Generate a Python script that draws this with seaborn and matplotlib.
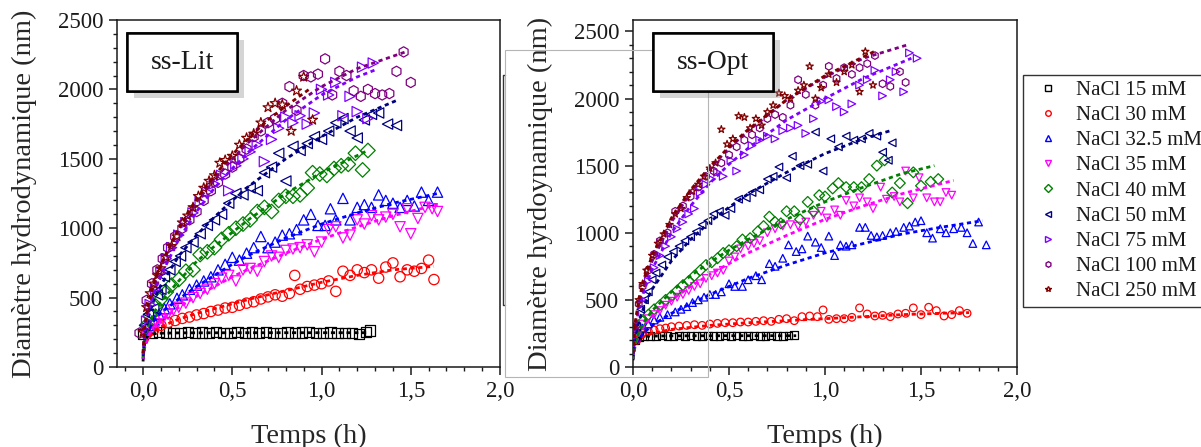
import matplotlib
matplotlib.use('Agg')
import matplotlib.pyplot as plt
import matplotlib.patheffects as pe
from matplotlib.patches import Rectangle
from matplotlib.lines import Line2D
from matplotlib.ticker import MultipleLocator, FuncFormatter
import seaborn as sns

# series description
labels = ['NaCl 15 mM', 'NaCl 30 mM', 'NaCl 32.5 mM', 'NaCl 35 mM', 'NaCl 40 mM',
          'NaCl 50 mM', 'NaCl 75 mM', 'NaCl 100 mM', 'NaCl 250 mM']
colors = ['#000000', '#ff0000', '#0000ff', '#ff00ff', '#008000',
          '#000080', '#8000ff', '#800080', '#800000']
markers = ['s', 'o', '^', 'v', 'D', '<', '>', 'h', '*']

### ss-Lit : measured points (time in h, diameter in nm)
lit_t_15 = [0.00, 0.05, 0.09, 0.13, 0.17, 0.21, 0.25, 0.29, 0.33, 0.37, 0.41, 0.45, 0.49, 0.53, 0.57, 0.61, 0.65,
            0.69, 0.73, 0.77, 0.81, 0.85, 0.89, 0.93, 0.97, 1.01, 1.05, 1.09, 1.13, 1.17, 1.21, 1.25, 1.27]
lit_d_15 = [240, 245, 250, 248, 246, 247, 250, 246, 248, 245, 250, 247, 245, 252, 246, 248, 244,
            250, 246, 247, 249, 245, 248, 250, 246, 245, 249, 247, 244, 246, 240, 250, 262]
lit_t_30 = [0.02, 0.06, 0.10, 0.14, 0.18, 0.22, 0.26, 0.30, 0.34, 0.38, 0.42, 0.46, 0.50, 0.54, 0.58, 0.62, 0.66,
            0.70, 0.74, 0.78, 0.82, 0.85, 0.88, 0.92, 0.96, 1.00, 1.04, 1.08, 1.12, 1.16, 1.20, 1.24, 1.28, 1.32,
            1.36, 1.40, 1.44, 1.48, 1.52, 1.56, 1.60, 1.63]
lit_d_30 = [240, 270, 300, 320, 335, 350, 360, 375, 385, 400, 410, 425, 430, 445, 460, 470, 490,
            505, 520, 510, 530, 660, 560, 580, 590, 600, 620, 545, 690, 660, 700, 680, 700, 640,
            720, 750, 650, 700, 690, 710, 770, 630]
lit_t_325 = [0.03, 0.06, 0.09, 0.12, 0.15, 0.19, 0.22, 0.26, 0.30, 0.34, 0.38, 0.42, 0.46, 0.50, 0.54, 0.58,
             0.62, 0.66, 0.70, 0.74, 0.78, 0.82, 0.86, 0.90, 0.94, 0.98, 1.02, 1.05, 1.08, 1.12, 1.16, 1.20,
             1.24, 1.28, 1.32, 1.36, 1.40, 1.44, 1.48, 1.52, 1.56, 1.60, 1.65]
lit_d_325 = [300, 340, 380, 420, 455, 495, 520, 560, 590, 620, 650, 700, 740, 790, 770, 820,
             860, 940, 860, 900, 950, 960, 990, 1060, 1100, 1020, 1020, 1140, 1060, 1215, 1060, 1150,
             1170, 1150, 1240, 1200, 1180, 1150, 1200, 1160, 1260, 1200, 1260]
lit_t_35 = [0.02, 0.05, 0.08, 0.11, 0.14, 0.17, 0.20, 0.24, 0.28, 0.32, 0.36, 0.40, 0.44, 0.48, 0.52, 0.56,
            0.60, 0.64, 0.68, 0.72, 0.76, 0.80, 0.84, 0.88, 0.92, 0.96, 1.00, 1.04, 1.08, 1.12, 1.16, 1.20,
            1.24, 1.28, 1.32, 1.36, 1.40, 1.44, 1.48, 1.50, 1.54, 1.58, 1.62, 1.65]
lit_d_35 = [220, 270, 310, 340, 380, 410, 430, 460, 500, 530, 560, 600, 640, 660, 620, 700,
            710, 690, 760, 800, 790, 840, 850, 860, 880, 830, 900, 990, 1010, 930, 950, 1060,
            1030, 1090, 1060, 1080, 1100, 1010, 1140, 960, 1070, 1150, 1140, 1120]
lit_t_40 = [0.02, 0.04, 0.07, 0.10, 0.13, 0.16, 0.20, 0.24, 0.28, 0.32, 0.36, 0.40, 0.44, 0.48, 0.52, 0.56,
            0.60, 0.64, 0.68, 0.72, 0.76, 0.80, 0.84, 0.88, 0.92, 0.95, 0.99, 1.03, 1.07, 1.11, 1.15, 1.19,
            1.23, 1.26]
lit_d_40 = [300, 370, 440, 490, 540, 590, 630, 690, 700, 810, 830, 860, 920, 960, 1000, 1030,
            1060, 1120, 1150, 1120, 1200, 1230, 1230, 1240, 1290, 1400, 1390, 1380, 1430, 1450, 1460, 1540,
            1420, 1560]
lit_t_50 = [0.01, 0.03, 0.06, 0.08, 0.10, 0.12, 0.15, 0.18, 0.21, 0.24, 0.28, 0.32, 0.36, 0.40, 0.44, 0.48,
            0.52, 0.56, 0.60, 0.64, 0.68, 0.72, 0.76, 0.80, 0.84, 0.88, 0.92, 0.96, 1.00, 1.04, 1.08, 1.12,
            1.16, 1.20, 1.24, 1.28, 1.32, 1.37, 1.42]
lit_d_50 = [300, 380, 420, 520, 560, 650, 700, 760, 800, 860, 900, 960, 1020, 1060, 1100, 1180,
            1250, 1240, 1290, 1270, 1400, 1440, 1540, 1340, 1590, 1560, 1610, 1660, 1640, 1700, 1760, 1790,
            1700, 1650, 1780, 1820, 1830, 1750, 1740]
lit_t_75 = [0.02, 0.04, 0.07, 0.10, 0.13, 0.16, 0.20, 0.24, 0.28, 0.32, 0.36, 0.40, 0.44, 0.48, 0.52, 0.56,
            0.60, 0.64, 0.68, 0.72, 0.76, 0.80, 0.84, 0.88, 0.92, 0.96, 1.00, 1.04, 1.08, 1.12, 1.16, 1.20,
            1.23, 1.26, 1.29]
lit_d_75 = [330, 450, 560, 680, 780, 860, 950, 1040, 1110, 1190, 1260, 1320, 1380, 1270, 1450, 1500,
            1550, 1600, 1480, 1640, 1720, 1800, 1760, 1810, 1750, 1830, 2000, 1960, 2050, 1810, 1950, 1840,
            2160, 1790, 2190]
lit_t_100 = [-0.02, 0.02, 0.05, 0.08, 0.11, 0.14, 0.18, 0.22, 0.26, 0.30, 0.34, 0.38, 0.42, 0.46, 0.50, 0.54,
             0.58, 0.62, 0.66, 0.70, 0.74, 0.78, 0.82, 0.86, 0.90, 0.94, 0.98, 1.02, 1.06, 1.10, 1.14, 1.18,
             1.22, 1.26, 1.30, 1.34, 1.38, 1.42, 1.46, 1.50]
lit_d_100 = [245, 480, 600, 700, 780, 860, 940, 1000, 1060, 1120, 1200, 1270, 1330, 1390, 1440, 1500,
             1570, 1660, 1700, 1760, 1790, 1900, 2020, 1850, 2100, 2090, 2110, 2220, 1960, 2130, 2100, 1990,
             1950, 2000, 1970, 1960, 1970, 2130, 2270, 2050]
lit_t_250 = [0.00, 0.02, 0.04, 0.06, 0.08, 0.10, 0.13, 0.16, 0.19, 0.22, 0.25, 0.28, 0.31, 0.34, 0.37, 0.40,
             0.43, 0.46, 0.50, 0.54, 0.58, 0.62, 0.66, 0.70, 0.74, 0.78, 0.83, 0.86, 0.90, 0.95]
lit_d_250 = [250, 430, 530, 600, 660, 710, 790, 870, 940, 1040, 1090, 1150, 1230, 1290, 1340, 1380,
             1470, 1490, 1520, 1600, 1650, 1680, 1760, 1870, 1900, 1890, 1700, 1990, 2090, 1780]

### ss-Lit : fitted curves (dashed)
lit_ft_15 = [0, 0.005, 0.01, 0.02, 0.04, 0.08, 0.2, 0.6, 1.0, 1.27]
lit_fd_15 = [40, 130, 180, 215, 235, 243, 246, 247, 247, 247]
lit_ft_30 = [0, 0.01, 0.03, 0.06, 0.1, 0.2, 0.3, 0.4, 0.5, 0.6, 0.8, 1.0, 1.2, 1.4, 1.63]
lit_fd_30 = [60, 150, 210, 255, 290, 345, 385, 420, 455, 490, 550, 610, 660, 700, 725]
lit_ft_325 = [0, 0.01, 0.03, 0.06, 0.1, 0.2, 0.3, 0.4, 0.5, 0.6, 0.8, 1.0, 1.2, 1.4, 1.65]
lit_fd_325 = [60, 170, 260, 330, 390, 490, 580, 660, 740, 810, 930, 1030, 1110, 1180, 1250]
lit_ft_35 = [0, 0.01, 0.03, 0.06, 0.1, 0.2, 0.3, 0.4, 0.5, 0.6, 0.8, 1.0, 1.2, 1.4, 1.65]
lit_fd_35 = [60, 150, 230, 290, 340, 430, 510, 580, 650, 710, 820, 920, 1010, 1090, 1170]
lit_ft_40 = [0, 0.01, 0.03, 0.06, 0.1, 0.2, 0.3, 0.4, 0.5, 0.6, 0.8, 1.0, 1.26]
lit_fd_40 = [70, 200, 300, 390, 470, 620, 760, 870, 970, 1070, 1250, 1400, 1560]
lit_ft_50 = [0, 0.01, 0.03, 0.06, 0.1, 0.2, 0.3, 0.4, 0.5, 0.6, 0.8, 1.0, 1.2, 1.42]
lit_fd_50 = [80, 230, 360, 480, 590, 800, 950, 1080, 1200, 1310, 1500, 1660, 1800, 1920]
lit_ft_75 = [0, 0.01, 0.03, 0.06, 0.1, 0.2, 0.3, 0.4, 0.5, 0.6, 0.8, 1.0, 1.2, 1.3]
lit_fd_75 = [90, 260, 400, 530, 660, 920, 1120, 1290, 1430, 1560, 1780, 1960, 2090, 2140]
lit_ft_100 = [0, 0.01, 0.03, 0.06, 0.1, 0.2, 0.3, 0.4, 0.5, 0.6, 0.8, 1.0, 1.2, 1.47]
lit_fd_100 = [100, 290, 450, 590, 730, 990, 1190, 1350, 1500, 1630, 1850, 2020, 2150, 2270]
lit_ft_250 = [0, 0.01, 0.03, 0.06, 0.1, 0.2, 0.3, 0.4, 0.5, 0.6, 0.7, 0.8, 0.93]
lit_fd_250 = [100, 300, 460, 600, 740, 1000, 1210, 1380, 1530, 1660, 1780, 1880, 2000]

### ss-Opt : measured points
opt_t_15 = [0.01, 0.03, 0.06, 0.09, 0.12, 0.15, 0.18, 0.21, 0.24, 0.27, 0.30, 0.33, 0.36, 0.39, 0.42, 0.45,
            0.48, 0.51, 0.54, 0.57, 0.60, 0.63, 0.66, 0.69, 0.72, 0.75, 0.78, 0.81, 0.84]
opt_d_15 = [200, 225, 230, 232, 228, 235, 232, 228, 236, 230, 234, 229, 233, 236, 230, 232,
            235, 229, 234, 230, 233, 236, 229, 232, 234, 230, 233, 235, 240]
opt_t_30 = [0.02, 0.05, 0.08, 0.11, 0.14, 0.17, 0.20, 0.24, 0.28, 0.32, 0.36, 0.40, 0.44, 0.48, 0.52, 0.56,
            0.60, 0.64, 0.68, 0.72, 0.76, 0.80, 0.84, 0.88, 0.92, 0.96, 0.99, 1.02, 1.06, 1.10, 1.14, 1.18,
            1.22, 1.26, 1.30, 1.34, 1.38, 1.42, 1.46, 1.50, 1.54, 1.58, 1.62, 1.66, 1.70, 1.74]
opt_d_30 = [200, 250, 265, 275, 285, 290, 300, 305, 310, 315, 310, 320, 325, 330, 330, 335,
            335, 340, 345, 340, 355, 360, 345, 375, 380, 375, 425, 355, 360, 360, 370, 440,
            395, 380, 385, 375, 395, 400, 440, 390, 445, 420, 380, 390, 420, 400]
opt_t_325 = [0.02, 0.05, 0.08, 0.11, 0.14, 0.18, 0.22, 0.25, 0.28, 0.31, 0.34, 0.37, 0.40, 0.43, 0.46, 0.50,
             0.53, 0.57, 0.60, 0.64, 0.67, 0.71, 0.74, 0.78, 0.81, 0.85, 0.88, 0.91, 0.95, 0.98, 1.02, 1.05,
             1.08, 1.11, 1.14, 1.18, 1.21, 1.24, 1.27, 1.30, 1.34, 1.37, 1.41, 1.44, 1.47, 1.50, 1.53, 1.56,
             1.60, 1.63, 1.67, 1.71, 1.74, 1.77, 1.80, 1.84]
opt_d_325 = [230, 290, 320, 350, 370, 390, 410, 430, 450, 480, 500, 520, 540, 540, 560, 620,
             600, 600, 650, 680, 650, 770, 750, 810, 910, 860, 880, 975, 930, 890, 975, 830,
             910, 900, 910, 1040, 1040, 980, 970, 980, 1000, 1010, 1040, 1050, 1080, 1090, 1000, 960,
             1030, 1000, 1030, 1040, 1000, 920, 1080, 910]
opt_t_35 = [0.02, 0.05, 0.08, 0.11, 0.14, 0.17, 0.20, 0.23, 0.26, 0.29, 0.32, 0.35, 0.38, 0.41, 0.44, 0.47,
            0.50, 0.53, 0.56, 0.60, 0.63, 0.66, 0.70, 0.74, 0.78, 0.82, 0.86, 0.90, 0.94, 0.98, 1.01, 1.05,
            1.08, 1.11, 1.15, 1.18, 1.22, 1.25, 1.29, 1.32, 1.36, 1.39, 1.42, 1.46, 1.49, 1.53, 1.57, 1.60,
            1.63, 1.66]
opt_d_35 = [230, 320, 360, 390, 420, 460, 490, 520, 540, 570, 600, 620, 660, 680, 700, 720,
            790, 820, 880, 900, 920, 940, 1000, 1030, 1050, 1060, 1050, 1080, 1130, 1160, 1110, 1170,
            1130, 1240, 1200, 1260, 1230, 1180, 1340, 1250, 1270, 1230, 1460, 1260, 1410, 1260, 1230, 1230,
            1300, 1280]
opt_t_40 = [0.02, 0.05, 0.08, 0.11, 0.14, 0.17, 0.20, 0.23, 0.26, 0.29, 0.32, 0.35, 0.38, 0.41, 0.44, 0.47,
            0.50, 0.54, 0.57, 0.61, 0.65, 0.68, 0.71, 0.74, 0.77, 0.80, 0.84, 0.87, 0.91, 0.94, 0.97, 1.00,
            1.04, 1.07, 1.11, 1.15, 1.19, 1.23, 1.27, 1.31, 1.35, 1.39, 1.43, 1.46, 1.50, 1.55, 1.59]
opt_d_40 = [250, 340, 390, 430, 460, 500, 530, 570, 610, 640, 680, 720, 760, 780, 810, 850,
            870, 900, 950, 960, 1010, 1050, 1120, 1080, 1070, 1160, 1160, 1100, 1230, 1160, 1280, 1270,
            1330, 1370, 1340, 1340, 1340, 1400, 1500, 1540, 1300, 1370, 1220, 1450, 1350, 1380, 1400]
opt_t_50 = [0.02, 0.04, 0.06, 0.08, 0.10, 0.12, 0.15, 0.18, 0.21, 0.24, 0.27, 0.30, 0.33, 0.36, 0.39, 0.42,
            0.45, 0.48, 0.51, 0.55, 0.59, 0.62, 0.66, 0.70, 0.73, 0.76, 0.80, 0.83, 0.87, 0.91, 0.95, 0.99,
            1.03, 1.07, 1.11, 1.15, 1.19, 1.23, 1.27, 1.30, 1.33, 1.35]
opt_d_50 = [300, 430, 500, 560, 650, 700, 760, 820, 860, 900, 940, 970, 1010, 1060, 1090, 1140,
            1160, 1130, 1180, 1250, 1260, 1300, 1320, 1400, 1420, 1490, 1410, 1570, 1500, 1510, 1750, 1460,
            1700, 1640, 1720, 1690, 1700, 1740, 1720, 1600, 1540, 1670]
opt_t_75 = [0.02, 0.05, 0.08, 0.11, 0.14, 0.17, 0.20, 0.23, 0.26, 0.29, 0.32, 0.35, 0.38, 0.41, 0.44, 0.47,
            0.51, 0.54, 0.58, 0.62, 0.66, 0.70, 0.74, 0.78, 0.82, 0.86, 0.90, 0.94, 0.98, 1.02, 1.06, 1.10,
            1.14, 1.18, 1.22, 1.26, 1.30, 1.34, 1.37, 1.41, 1.44, 1.48]
opt_d_75 = [300, 500, 640, 740, 830, 900, 970, 1030, 1080, 1140, 1180, 1300, 1360, 1400, 1450, 1420,
            1540, 1460, 1580, 1650, 1690, 1720, 1700, 1760, 1780, 1800, 1740, 1850, 1980, 1990, 1940, 1900,
            1960, 2100, 2140, 2210, 2020, 2140, 2200, 2050, 2340, 2300]
opt_t_100 = [0.01, 0.03, 0.05, 0.08, 0.11, 0.14, 0.18, 0.22, 0.26, 0.30, 0.34, 0.38, 0.42, 0.46, 0.50, 0.54,
             0.58, 0.62, 0.66, 0.70, 0.74, 0.78, 0.82, 0.86, 0.90, 0.95, 0.99, 1.02, 1.06, 1.10, 1.14, 1.18,
             1.22, 1.26, 1.30, 1.34, 1.39, 1.42]
opt_d_100 = [280, 470, 600, 720, 840, 940, 1000, 1160, 1200, 1270, 1340, 1420, 1460, 1520, 1580, 1640,
             1690, 1730, 1780, 1850, 1880, 1860, 1950, 2140, 2030, 1950, 2100, 2240, 2150, 2230, 2180, 2230,
             2260, 2320, 2110, 2090, 2200, 2120]
opt_t_250 = [0.01, 0.03, 0.05, 0.07, 0.10, 0.13, 0.16, 0.19, 0.22, 0.25, 0.28, 0.31, 0.34, 0.37, 0.40, 0.43,
             0.46, 0.49, 0.52, 0.55, 0.58, 0.61, 0.64, 0.67, 0.70, 0.73, 0.76, 0.79, 0.82, 0.86, 0.89, 0.92,
             0.95, 0.98, 1.02, 1.06, 1.10, 1.14, 1.18, 1.21, 1.25]
opt_d_250 = [300, 500, 620, 720, 830, 920, 990, 1060, 1140, 1180, 1260, 1310, 1360, 1420, 1480, 1520,
             1770, 1660, 1700, 1870, 1860, 1780, 1850, 1800, 1900, 1950, 2040, 2020, 2000, 2060, 2100, 2240,
             2000, 2080, 2180, 2120, 2200, 2250, 2050, 2350, 2100]

### ss-Opt : fitted curves (dashed)
opt_ft_15 = [0, 0.005, 0.01, 0.02, 0.04, 0.08, 0.2, 0.5, 0.85]
opt_fd_15 = [50, 140, 180, 205, 222, 230, 232, 233, 233]
opt_ft_30 = [0, 0.01, 0.03, 0.06, 0.1, 0.2, 0.4, 0.6, 0.8, 1.0, 1.2, 1.4, 1.6, 1.75]
opt_fd_30 = [60, 150, 200, 230, 250, 280, 310, 330, 345, 360, 375, 390, 400, 405]
opt_ft_325 = [0, 0.01, 0.03, 0.06, 0.1, 0.2, 0.3, 0.4, 0.5, 0.6, 0.8, 1.0, 1.2, 1.4, 1.6, 1.82]
opt_fd_325 = [60, 150, 210, 260, 310, 400, 470, 540, 600, 660, 760, 850, 920, 990, 1040, 1090]
opt_ft_35 = [0, 0.01, 0.03, 0.06, 0.1, 0.2, 0.3, 0.4, 0.5, 0.6, 0.8, 1.0, 1.2, 1.4, 1.67]
opt_fd_35 = [60, 160, 240, 310, 380, 500, 600, 690, 770, 850, 980, 1100, 1200, 1290, 1390]
opt_ft_40 = [0, 0.01, 0.03, 0.06, 0.1, 0.2, 0.3, 0.4, 0.5, 0.6, 0.8, 1.0, 1.2, 1.4, 1.57]
opt_fd_40 = [60, 170, 260, 340, 420, 560, 680, 780, 870, 950, 1100, 1230, 1340, 1440, 1500]
opt_ft_50 = [0, 0.01, 0.03, 0.06, 0.1, 0.2, 0.3, 0.4, 0.5, 0.6, 0.8, 1.0, 1.2, 1.34]
opt_fd_50 = [80, 220, 340, 460, 580, 790, 950, 1080, 1190, 1290, 1450, 1590, 1700, 1760]
opt_ft_75 = [0, 0.01, 0.03, 0.06, 0.1, 0.2, 0.3, 0.4, 0.5, 0.6, 0.8, 1.0, 1.2, 1.45]
opt_fd_75 = [90, 280, 430, 580, 730, 1000, 1200, 1370, 1510, 1630, 1840, 2000, 2150, 2300]
opt_ft_100 = [0, 0.01, 0.03, 0.06, 0.1, 0.2, 0.3, 0.4, 0.5, 0.6, 0.8, 1.0, 1.2, 1.43]
opt_fd_100 = [100, 300, 470, 630, 790, 1080, 1300, 1480, 1630, 1760, 1990, 2160, 2300, 2400]
opt_ft_250 = [0, 0.01, 0.03, 0.06, 0.1, 0.2, 0.3, 0.4, 0.5, 0.6, 0.8, 1.0, 1.27]
opt_fd_250 = [100, 320, 500, 670, 830, 1110, 1320, 1490, 1640, 1770, 1990, 2170, 2360]

lit_pts = [(lit_t_15, lit_d_15), (lit_t_30, lit_d_30), (lit_t_325, lit_d_325), (lit_t_35, lit_d_35),
           (lit_t_40, lit_d_40), (lit_t_50, lit_d_50), (lit_t_75, lit_d_75), (lit_t_100, lit_d_100),
           (lit_t_250, lit_d_250)]
lit_fit = [(lit_ft_15, lit_fd_15), (lit_ft_30, lit_fd_30), (lit_ft_325, lit_fd_325), (lit_ft_35, lit_fd_35),
           (lit_ft_40, lit_fd_40), (lit_ft_50, lit_fd_50), (lit_ft_75, lit_fd_75), (lit_ft_100, lit_fd_100),
           (lit_ft_250, lit_fd_250)]
opt_pts = [(opt_t_15, opt_d_15), (opt_t_30, opt_d_30), (opt_t_325, opt_d_325), (opt_t_35, opt_d_35),
           (opt_t_40, opt_d_40), (opt_t_50, opt_d_50), (opt_t_75, opt_d_75), (opt_t_100, opt_d_100),
           (opt_t_250, opt_d_250)]
opt_fit = [(opt_ft_15, opt_fd_15), (opt_ft_30, opt_fd_30), (opt_ft_325, opt_fd_325), (opt_ft_35, opt_fd_35),
           (opt_ft_40, opt_fd_40), (opt_ft_50, opt_fd_50), (opt_ft_75, opt_fd_75), (opt_ft_100, opt_fd_100),
           (opt_ft_250, opt_fd_250)]

sns.set_theme(style='ticks')
plt.rcParams['font.family'] = ['Liberation Serif', 'DejaVu Serif']
plt.rcParams['axes.linewidth'] = 1.1
plt.rcParams['text.color'] = '#1a1a1a'

W, H = 1201, 447
fig = plt.figure(figsize=(W / 100, H / 100), dpi=100)
fig.patch.set_facecolor('white')
ax1 = fig.add_axes([117 / W, 80 / H, 383 / W, 347 / H])
ax2 = fig.add_axes([633 / W, 80 / H, 384 / W, 347 / H])


def draw_panel(ax, pts, fits, size):
    for (t, d), (ft, fd), c, m in zip(pts, fits, colors, markers):
        sns.lineplot(x=ft, y=fd, ax=ax, color=c, linewidth=2.0, linestyle=(0, (1.5, 1.3)),
                     errorbar=None, zorder=3)
        sns.scatterplot(x=t, y=d, ax=ax, marker=m, s=size, facecolor='none', edgecolor=c,
                        linewidth=0.9, zorder=2)


draw_panel(ax1, lit_pts, lit_fit, 55)
draw_panel(ax2, opt_pts, opt_fit, 30)

comma = FuncFormatter(lambda v, p: f'{v:.1f}'.replace('.', ','))
for ax, ylab, ymax in [(ax1, 'Diamètre hydrodynamique (nm)', 2500),
                       (ax2, 'Diamètre hyrdoynamique (nm)', 2585)]:
    ax.set_ylim(0, ymax)
    ax.xaxis.set_major_locator(MultipleLocator(0.5))
    ax.xaxis.set_minor_locator(MultipleLocator(0.1))
    ax.yaxis.set_major_locator(MultipleLocator(500))
    ax.yaxis.set_minor_locator(MultipleLocator(100))
    ax.xaxis.set_major_formatter(comma)
    ax.tick_params(which='major', length=6, width=1.1, labelsize=16.5, colors='#1a1a1a', pad=4)
    ax.tick_params(which='minor', length=3, width=1.0, colors='#1a1a1a')
    ax.set_xlabel('Temps (h)', fontsize=20.5, labelpad=16)
    ax.set_ylabel(ylab, fontsize=20.5, labelpad=14.5)
    for s in ax.spines.values():
        s.set_color('#1a1a1a')
ax1.set_xlim(-0.146, 2.0)
ax2.set_xlim(0, 2.0)

# label boxes with drop shadow
for ax, name, x0, w, xc in [(ax1, 'ss-Lit', 0.026, 0.287, 0.17), (ax2, 'ss-Opt', 0.052, 0.3125, 0.208)]:
    box = Rectangle((x0, 0.795), w, 0.167, transform=ax.transAxes, facecolor='white',
                    edgecolor='black', linewidth=1.8, zorder=6, clip_on=False)
    box.set_path_effects([pe.withSimplePatchShadow(offset=(5, -5), shadow_rgbFace='#888888', alpha=0.35),
                          pe.Normal()])
    ax.add_patch(box)
    ax.text(xc, 0.878, name, transform=ax.transAxes, ha='center', va='center', fontsize=20, zorder=7)

# leftover frame from the image montage
ax2.add_patch(Rectangle((505 / W, 1 - 377 / H), 203 / W, 327 / H, transform=fig.transFigure,
                        facecolor='none', edgecolor='#b5b5b5', linewidth=0.8, clip_on=False, zorder=4))
ax2.add_line(Line2D([505 / W, 503 / W, 503 / W, 505 / W], [1 - 75 / H, 1 - 75 / H, 1 - 305 / H, 1 - 305 / H],
                    transform=fig.transFigure, color='#333333', linewidth=1.0, clip_on=False))

handles = [Line2D([], [], linestyle='none', marker=m, markersize=4, markerfacecolor='none',
                  markeredgecolor=c, markeredgewidth=1.0) for m, c in zip(markers, colors)]
leg = fig.legend(handles, labels, loc='upper left', bbox_to_anchor=(1023 / W, 1 - 75 / H),
                 fontsize=15, frameon=True, fancybox=False, framealpha=1, edgecolor='#333333',
                 borderpad=0.25, labelspacing=0.27, handlelength=1.9, handletextpad=0.4, borderaxespad=0)
leg.get_frame().set_linewidth(1.0)

fig.savefig('out.png', dpi=100)
